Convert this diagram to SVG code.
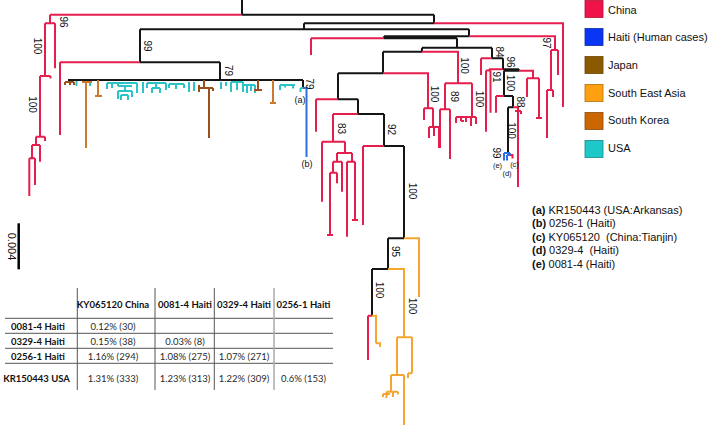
<svg xmlns="http://www.w3.org/2000/svg" width="708" height="426" viewBox="0 0 708 426">
<style>
path{fill:none;stroke-width:2;stroke-linecap:butt;stroke-linejoin:miter}
.r{stroke:#e51e4e}.k{stroke:#151515}.t{stroke:#2cc3c8}.o{stroke:#f5a630}.b{stroke:#2f6fe0}.sk{stroke:#cc7a30}.jp{stroke:#9b4f1c}
.bs{font-family:"Liberation Sans",Arial,sans-serif;font-size:10px;fill:#111;text-anchor:middle;dominant-baseline:central}
.lb{font-family:"Liberation Sans",Arial,sans-serif;font-size:9px;fill:#111;text-anchor:middle;dominant-baseline:central}
.sm{font-size:7.5px}
.lg{font-family:"Liberation Sans",Arial,sans-serif;font-size:11px;fill:#111}
.nt{font-family:"Liberation Sans",Arial,sans-serif;font-size:11px;fill:#111;white-space:pre}
.nt tspan.bd{font-weight:bold}
.th{font-family:Lato,"Liberation Sans",sans-serif;font-size:9.5px;font-weight:bold;fill:#111;text-anchor:middle}
.td{font-family:Lato,"Liberation Sans",sans-serif;font-size:9.5px;fill:#2a2a2a;text-anchor:middle}
.gl{stroke:#555;stroke-width:1}
</style>

<g id="connectors">
<g id="tree-black">
<path class="k" d="M242,0 V14.7 M242,14.7 H434 M434,14.7 V23.3 M304,23.3 H434 M304,23.3 V29.3 M140,29.3 H469 M140,29.3 V62.3 M140,62.3 H220 M220,62.3 V80 M68,80 H303 M303,80 V88"/>
<path class="k" d="M469,29.3 V36.3 M384,36.3 H469 M384,36.3 V38.3 M384,38.3 H457 M457,38.3 V47.7 M422,47.7 H492 M422,47.7 V51.7 M383,51.7 H422 M383,51.7 V73.3 M338,73.3 H383 M338,73.3 V99.3 M338,99.3 H358 M358,99.3 V114 M358,114 H384 M384,114 V146 M384,146 H404 M404,146 V238.3 M388,238.3 H404 M388,238.3 V269 M372,269 H388 M372,269 V315.7"/>
<path class="k" d="M492,47.7 V58.3 M492,58.3 H503 M503,58.3 V69.3 M503,69.3 H519 M519,69.3 V70.7 M504,70.7 H519 M504,70.7 V96 M504,96 H513 M513,96 V107.3 M508,107.3 H513 M508,107.3 V153"/>
</g>
<g id="tree-china">
<path class="r" d="M50,14.7 H242 M50,14.7 V23.3 M45,23.3 H55 M55,23.3 V68.3 M45,23.3 V76 M40,76 H50.5 M50.5,76 V78.5 M40,76 V136.7 M36,136.7 H45 M45,136.7 V141 M36,136.7 V145 M32,145 H40 M40,145 V161.7 M32,145 V158.3 M29.3,158.3 H35 M29.3,158.3 V196 M35,158.3 V185"/>
<path class="r" d="M60,62.3 H140 M60,62.3 V135"/>
<path class="r" d="M434,23.3 H563 V107"/>
<path class="r" d="M469,36.3 H555 V50 M551,50 H558 M558,50 V75 M551,50 V90 M547,90 H553 M547,90 V138 M553,90 V97"/>
<path class="r" d="M311,38.3 H384 M311,38.3 V55"/>
<path class="r" d="M422,51.7 H458 V83.3 M445,83.3 H472 M445,83.3 V109.3 M440,109.3 H450 M440,109.3 V148 M450,109.3 V159 M472,83.3 V117 M456,117 H476 M456,117 V123 M461,117 V121 M461,121 H464 M466,117 V122 M471,117 V126 M476,117 V124"/>
<path class="r" d="M481,58.3 H492 M481,58.3 V75"/>
<path class="r" d="M489,69.3 H503 M489,69.3 V70.5 M486,70.5 H490.5 M486,70.5 V131.7 M490.5,70.5 V112.7"/>
<path class="r" d="M519,70.7 H533 V78.3 M527,78.3 H539 M527,78.3 V97 M539,78.3 V118 M536,118 H542"/>
<path class="r" d="M496,96 H504 M496,96 V112.7"/>
<path class="r" d="M513,107.3 H518 V187 M515,111 H521 M521,111 V114"/>
<path class="r" d="M510,155 H512.5 V158.5"/>
<path class="r" d="M383,73.3 H428 V108.3 M424,108.3 H433 M424,108.3 V120 M433,108.3 V127 M429,127 H439 M429,127 V138 M434,127 V136 M439,127 V148"/>
<path class="r" d="M316,99.3 H338 M316,99.3 V131.7"/>
<path class="r" d="M333,114 H358 M333,114 V141.7 M322,141.7 H345 M322,141.7 V201.7 M345,141.7 V153 M337,153 H352 M337,153 V161.7 M333,161.7 H342 M333,161.7 V172.7 M330,172.7 H337 M330,172.7 V235 M327,235 H333 M337,172.7 V183.3 M342,161.7 V191.7 M352,153 V161.7 M347,161.7 H355 M347,161.7 V236.7 M355,161.7 V220 M352,220 H358"/>
<path class="r" d="M363,146 H384 M363,146 V225"/>
<path class="r" d="M368,315.7 H372 M368,315.7 V360"/>
</g>
<g id="tree-sea">
<path class="o" d="M404,238.3 H419 V297"/>
<path class="o" d="M388,269 H404 V337.3 M372,315.7 H376 V343.3 M376,343.3 H380 V347"/>
<path class="o" d="M397,337.3 H412 M412,337.3 V373.3 M408,373.3 H412 M408,373.3 V378 M397,337.3 V375 M391,375 H404 M404,375 V425 M391,375 V391.7 M386.5,391.7 H398 M386.5,391.7 V398 M398,391.7 V394.5 M383,394 H390 M383,394 V397 M393,391.7 V397"/>
</g>
<g id="tree-usa">
<path class="t" d="M76.5,81 V86 M90,82 V86 M107,83 H137 M107,83 V89 M112,83 V88 M118,83 V86 M118,86 H132 M125,86 V91 M118,91 H132 M118,91 V99 M132,91 V97 M121,95 H128 M121,95 V100 M128,95 V100 M137,83 V93 M143,82 V93 M147,83 H166 M147,83 V88 M152,88 H160 M152,88 V93 M160,88 V93 M156,83 V88 M166,83 V90 M169,84 H184 M169,84 V88 M176,84 V89 M184,84 V88 M189,82 V92 M194,82 V91 M221,82 V89 M226,82 V86 M231,82 H243 M231,82 V92 M237,82 V90 M243,82 V92 M243,85 H255 M247,85 V93 M251,85 V91 M255,85 V93 M280,85 H295 M280,85 V90 M285,85 V87.5 M293,85 V88.5"/>
<path class="t" d="M300.5,88 H303 M300.5,88 V92"/>
</g>
<g id="tree-korea-japan">
<path class="jp" d="M65,82 H74 M65,82 V85 M70,82 V85 M74,82 V85"/>
<path class="sk" d="M82,82 H92 M86,82 V148 M98,80 V96 M95,96 H102"/>
<path class="jp" d="M199,88 H213 M199,85 V92 M209,88 V138 M213,88 V91 M204,80 V88"/>
<path class="jp" d="M258,80 V90 M254,90 H262"/>
<path class="sk" d="M273,80 V103 M270,103 H276"/>
</g>
<g id="tree-haiti">
<path class="b" d="M303,88 H306.5 V157"/>
<path class="b" d="M504,153 H510 M504,153 V160.5 M510,153 V155 M507,155 H510 M507,155 V160.5"/>
</g>
</g>

<g id="support-values">
<text class="bs" transform="translate(63.5,22) rotate(90)">96</text>
<text class="bs" transform="translate(37,46) rotate(90)">100</text>
<text class="bs" transform="translate(32,104.5) rotate(90)">100</text>
<text class="bs" transform="translate(147,46) rotate(90)">99</text>
<text class="bs" transform="translate(228,70.5) rotate(90)">79</text>
<text class="bs" transform="translate(309,84) rotate(90)">79</text>
<text class="bs" transform="translate(341,128.5) rotate(90)">83</text>
<text class="bs" transform="translate(391,129.5) rotate(90)">92</text>
<text class="bs" transform="translate(434.5,94) rotate(90)">100</text>
<text class="bs" transform="translate(454.5,96.5) rotate(90)">89</text>
<text class="bs" transform="translate(464.5,65.5) rotate(90)">100</text>
<text class="bs" transform="translate(479,99) rotate(90)">100</text>
<text class="bs" transform="translate(499.5,52) rotate(90)">84</text>
<text class="bs" transform="translate(510.5,62) rotate(90)">96</text>
<text class="bs" transform="translate(496.5,77) rotate(90)">91</text>
<text class="bs" transform="translate(510.5,83) rotate(90)">100</text>
<text class="bs" transform="translate(520,102) rotate(90)">88</text>
<text class="bs" transform="translate(511.5,130.5) rotate(90)">100</text>
<text class="bs" transform="translate(496.5,153) rotate(90)">99</text>
<text class="bs" transform="translate(546.5,43) rotate(90)">97</text>
<text class="bs" transform="translate(412,191) rotate(90)">100</text>
<text class="bs" transform="translate(395.5,251.5) rotate(90)">95</text>
<text class="bs" transform="translate(379,290) rotate(90)">100</text>
<text class="bs" transform="translate(412,306) rotate(90)">100</text>
</g>

<g id="tip-labels">
<text class="lb" x="300" y="99.5">(a)</text>
<text class="lb" x="307" y="163.5">(b)</text>
<text class="lb sm" x="514.5" y="164">(c)</text>
<text class="lb sm" x="507" y="173.5">(d)</text>
<text class="lb sm" x="497.5" y="165.5">(e)</text>
</g>

<g id="scale-bar">
<path class="k" style="stroke-width:2.5;stroke:#000" d="M18.7,223.3 V269.3"/>
<text class="bs" style="font-size:11px" transform="translate(11.5,246.5) rotate(90)">0.004</text>
</g>

<g id="legend">
<g id="legend-china"><rect x="585" y="0.5" width="18" height="17" fill="#f0134a" stroke="#b01030" stroke-width="0.8"/><text class="lg" x="608" y="13.5">China</text></g>
<g id="legend-haiti"><rect x="585" y="28.5" width="18" height="17" fill="#0a35f5" stroke="#0a2aa0" stroke-width="0.8"/><text class="lg" x="608" y="41.2">Haiti (Human cases)</text></g>
<g id="legend-japan"><rect x="585" y="56.5" width="18" height="17" fill="#8b5a00" stroke="#6a4400" stroke-width="0.8"/><text class="lg" x="608" y="68.9">Japan</text></g>
<g id="legend-sea"><rect x="585" y="84.5" width="18" height="17" fill="#ffa010" stroke="#b07010" stroke-width="0.8"/><text class="lg" x="608" y="96.6">South East Asia</text></g>
<g id="legend-korea"><rect x="585" y="112.5" width="18" height="17" fill="#cc6600" stroke="#8a4a10" stroke-width="0.8"/><text class="lg" x="608" y="124.3">South Korea</text></g>
<g id="legend-usa"><rect x="585" y="140.5" width="18" height="17" fill="#1ec8c8" stroke="#118888" stroke-width="0.8"/><text class="lg" x="608" y="152">USA</text></g>
</g>

<g id="strain-key">
<text class="nt" x="532" y="213.5"><tspan class="bd">(a)</tspan> KR150443 (USA:Arkansas)</text>
<text class="nt" x="532" y="227"><tspan class="bd">(b)</tspan> 0256-1 (Haiti)</text>
<text class="nt" x="532" y="240.5"><tspan class="bd">(c)</tspan> KY065120  (China:Tianjin)</text>
<text class="nt" x="532" y="254"><tspan class="bd">(d)</tspan> 0329-4  (Haiti)</text>
<text class="nt" x="532" y="267.5"><tspan class="bd">(e)</tspan> 0081-4 (Haiti)</text>
</g>

<g id="distance-table">
<path class="gl" d="M77.3,288 V390 M155,288 V390 M214.3,288 V390 M5,318.3 H333 M5,333.3 H333 M5,348.3 H333 M5,363.3 H333"/>
<path d="M274,288 V390" style="stroke:#aaa;stroke-width:1.5"/>
<text class="th" x="113" y="307.5">KY065120 China</text>
<text class="th" x="185" y="307.5">0081-4 Haiti</text>
<text class="th" x="244" y="307.5">0329-4 Haiti</text>
<text class="th" x="303.5" y="307.5">0256-1 Haiti</text>
<text class="th" x="38" y="330">0081-4 Haiti</text>
<text class="th" x="38" y="345">0329-4 Haiti</text>
<text class="th" x="38" y="360">0256-1 Haiti</text>
<text class="th" x="36.5" y="381.5">KR150443 USA</text>
<text class="td" x="113" y="330">0.12% (30)</text>
<text class="td" x="113" y="345">0.15% (38)</text>
<text class="td" x="185" y="345">0.03% (8)</text>
<text class="td" x="113" y="360">1.16% (294)</text>
<text class="td" x="185" y="360">1.08% (275)</text>
<text class="td" x="244" y="360">1.07% (271)</text>
<text class="td" x="113" y="381.5">1.31% (333)</text>
<text class="td" x="185" y="381.5">1.23% (313)</text>
<text class="td" x="244" y="381.5">1.22% (309)</text>
<text class="td" x="303.5" y="381.5">0.6% (153)</text>
</g>
</svg>
